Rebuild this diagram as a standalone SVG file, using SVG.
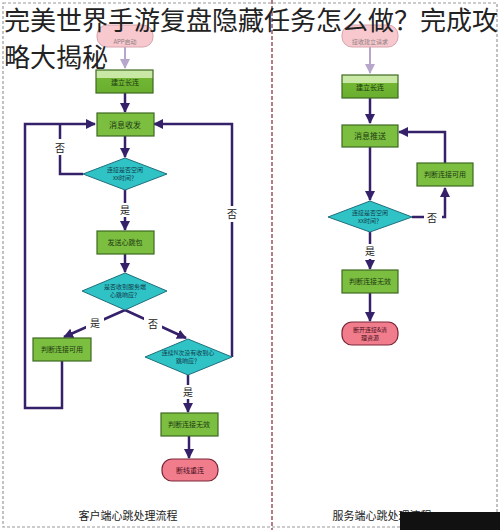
<svg xmlns="http://www.w3.org/2000/svg" width="500" height="530" viewBox="0 0 500 530">
<style>
.t{font-family:"Noto Sans CJK SC","Noto Sans",sans-serif;text-anchor:middle}
.bx{fill:#7bbe40;stroke:#3f6a22;stroke-width:1.2}
.bx2{fill:url(#g1);stroke:#3f6a22;stroke-width:1.2}
.dm{fill:#2fc3c6;stroke:#1f6f7d;stroke-width:1}
.st{fill:#f7c9cf;stroke:#d8a3ab;stroke-width:1}
.en{fill:#f07c8c;stroke:#7a2638;stroke-width:1.2}
.ln{fill:none;stroke:#35206a;stroke-width:2.5}
.lp{fill:none;stroke:#b6a6cc;stroke-width:2}
.bt{font-size:7px;fill:#1d3a12}
.dt{font-size:6px;fill:#123c4a}
.lb{font-size:10px;fill:#222}
.ti{font-family:"Noto Sans CJK SC",sans-serif;font-size:26px;fill:#222}
</style>
<defs>
<linearGradient id="g1" x1="0" y1="0" x2="0" y2="1">
<stop offset="0" stop-color="#c9e8a6"/><stop offset="0.35" stop-color="#c9e8a6"/><stop offset="0.36" stop-color="#72b634"/><stop offset="1" stop-color="#6aae2e"/>
</linearGradient>
<marker id="a" viewBox="0 0 10 10" refX="9" refY="5" markerWidth="4" markerHeight="4" orient="auto"><path d="M0,0 L10,5 L0,10 z" fill="#35206a"/></marker>
<marker id="ap" viewBox="0 0 10 10" refX="9" refY="5" markerWidth="5" markerHeight="5" orient="auto"><path d="M0,0 L10,5 L0,10 z" fill="#b6a6cc"/></marker>
</defs>
<rect width="500" height="530" fill="#fff"/>
<rect x="3" y="3" width="494" height="524" fill="none" stroke="#9a9a9a" stroke-width="1.2" stroke-dasharray="3,2"/>
<line x1="272" y1="0" x2="272" y2="530" stroke="#a0505e" stroke-width="1.5" stroke-dasharray="4,2"/>

<g id="connectors">
<line class="lp" x1="125" y1="47" x2="125" y2="68" marker-end="url(#ap)"/>
<line class="ln" x1="125" y1="93" x2="125" y2="112" marker-end="url(#a)"/>
<line class="ln" x1="125" y1="136" x2="125" y2="157" marker-end="url(#a)"/>
<polyline class="ln" points="83,174 60,174 60,124"/>
<line class="ln" x1="125" y1="190" x2="125" y2="230" marker-end="url(#a)"/>
<line class="ln" x1="125" y1="254" x2="125" y2="272" marker-end="url(#a)"/>
<line class="ln" x1="125" y1="310" x2="64" y2="337" marker-end="url(#a)"/>
<line class="ln" x1="125" y1="310" x2="186" y2="338" marker-end="url(#a)"/>
<polyline class="ln" points="62,361 62,408 25,408 25,124 95,124" marker-end="url(#a)"/>
<polyline class="ln" points="232,357 232,124 154,124" marker-end="url(#a)"/>
<line class="ln" x1="188" y1="375" x2="188" y2="412" marker-end="url(#a)"/>
<line class="ln" x1="189" y1="436" x2="189" y2="458" marker-end="url(#a)"/>
<rect x="50" y="139" width="20" height="16" fill="#fff"/>
<text class="t lb" x="60" y="152">否</text>
<rect x="116" y="203" width="18" height="14" fill="#fff"/>
<text class="t lb" x="125" y="214">是</text>
<rect x="86" y="316" width="18" height="14" fill="#fff"/>
<text class="t lb" x="95" y="327">是</text>
<rect x="144" y="317" width="18" height="14" fill="#fff"/>
<text class="t lb" x="153" y="328">否</text>
<rect x="223" y="206" width="18" height="16" fill="#fff"/>
<text class="t lb" x="232" y="218">否</text>
<rect x="179" y="385" width="18" height="14" fill="#fff"/>
<text class="t lb" x="188" y="396">是</text>

<line class="lp" x1="370" y1="47" x2="370" y2="73" marker-end="url(#ap)"/>
<line class="ln" x1="370" y1="98" x2="370" y2="123" marker-end="url(#a)"/>
<line class="ln" x1="370" y1="147" x2="370" y2="200" marker-end="url(#a)"/>
<polyline class="ln" points="412,217 445,217 445,188" marker-end="url(#a)"/>
<polyline class="ln" points="445,163 445,132 399,132" marker-end="url(#a)"/>
<line class="ln" x1="370" y1="232" x2="370" y2="269" marker-end="url(#a)"/>
<line class="ln" x1="370" y1="293" x2="370" y2="321" marker-end="url(#a)"/>
<rect x="424" y="210" width="18" height="15" fill="#fff"/>
<text class="t lb" x="432" y="222">否</text>
<rect x="361" y="244" width="18" height="15" fill="#fff"/>
<text class="t lb" x="370" y="255">是</text>
</g>

<g id="c_start"><rect class="st" x="97" y="25" width="56" height="22" rx="10"/><text class="t" x="125" y="44" style="font-size:6px;fill:#8d7d80">APP启动</text></g>
<g id="c_conn"><rect class="bx2" x="96" y="70" width="57" height="23"/><text class="t bt" x="125" y="84.5">建立长连</text></g>
<g id="c_msg"><rect class="bx" x="97" y="113" width="57" height="23"/><text class="t" x="125" y="128" style="font-size:8px;fill:#1d3a12">消息收发</text></g>
<g id="c_d1"><polygon class="dm" points="125,158 167,174 125,190 83,174"/><text class="t dt" x="125" y="172">连接是否空闲</text><text class="t dt" x="125" y="180">xx时间？</text></g>
<g id="c_ping"><rect class="bx" x="97" y="231" width="57" height="23"/><text class="t bt" x="125" y="245">发送心跳包</text></g>
<g id="c_d2"><polygon class="dm" points="125,273 167,291 125,310 82,291"/><text class="t dt" x="125" y="289">是否收到服务端</text><text class="t dt" x="125" y="297">心跳响应？</text></g>
<g id="c_ok"><rect class="bx" x="33" y="338" width="58" height="23"/><text class="t bt" x="62" y="352">判断连接可用</text></g>
<g id="c_d3"><polygon class="dm" points="188,339 232,357 188,375 145,357"/><text class="t dt" x="188" y="355">连续N次没有收到心</text><text class="t dt" x="188" y="363">跳响应？</text></g>
<g id="c_bad"><rect class="bx" x="161" y="413" width="57" height="23"/><text class="t bt" x="189" y="427">判断连接无效</text></g>
<g id="c_end"><rect class="en" x="162" y="459" width="56" height="22" rx="10"/><text class="t bt" x="190" y="473" style="fill:#4a1020">断线重连</text></g>
<text class="t" x="128" y="520" style="font-size:11px;fill:#222">客户端心跳处理流程</text>

<g id="s_start"><rect class="st" x="342" y="25" width="56" height="22" rx="10"/><text class="t" x="370" y="44" style="font-size:6px;fill:#8d7d80">接收建立请求</text></g>
<g id="s_conn"><rect class="bx2" x="342" y="75" width="56" height="23"/><text class="t bt" x="370" y="89.5">建立长连</text></g>
<g id="s_push"><rect class="bx" x="342" y="125" width="56" height="22"/><text class="t" x="370" y="139" style="font-size:8px;fill:#1d3a12">消息推送</text></g>
<g id="s_d1"><polygon class="dm" points="370,201 412,217 370,232 328,217"/><text class="t dt" x="370" y="215">连接是否空闲</text><text class="t dt" x="370" y="223">xx时间？</text></g>
<g id="s_ok"><rect class="bx" x="417" y="163" width="56" height="23"/><text class="t bt" x="445" y="177">判断连接可用</text></g>
<g id="s_bad"><rect class="bx" x="342" y="270" width="56" height="23"/><text class="t bt" x="370" y="284">判断连接无效</text></g>
<g id="s_end"><rect class="en" x="342" y="322" width="56" height="23" rx="10"/><text class="t" x="370" y="332" style="font-size:6px;fill:#4a1020">断开连接&amp;清</text><text class="t" x="370" y="340" style="font-size:6px;fill:#4a1020">理资源</text></g>
<text class="t" x="382" y="520" style="font-size:11px;fill:#222">服务端心跳处理流程</text>
<rect x="400" y="512" width="100" height="18" fill="#111"/>

<text class="ti" x="4" y="30">完美世界手游复盘隐藏任务怎么做？完成攻</text>
<text class="ti" x="4" y="67">略大揭秘</text>
</svg>
